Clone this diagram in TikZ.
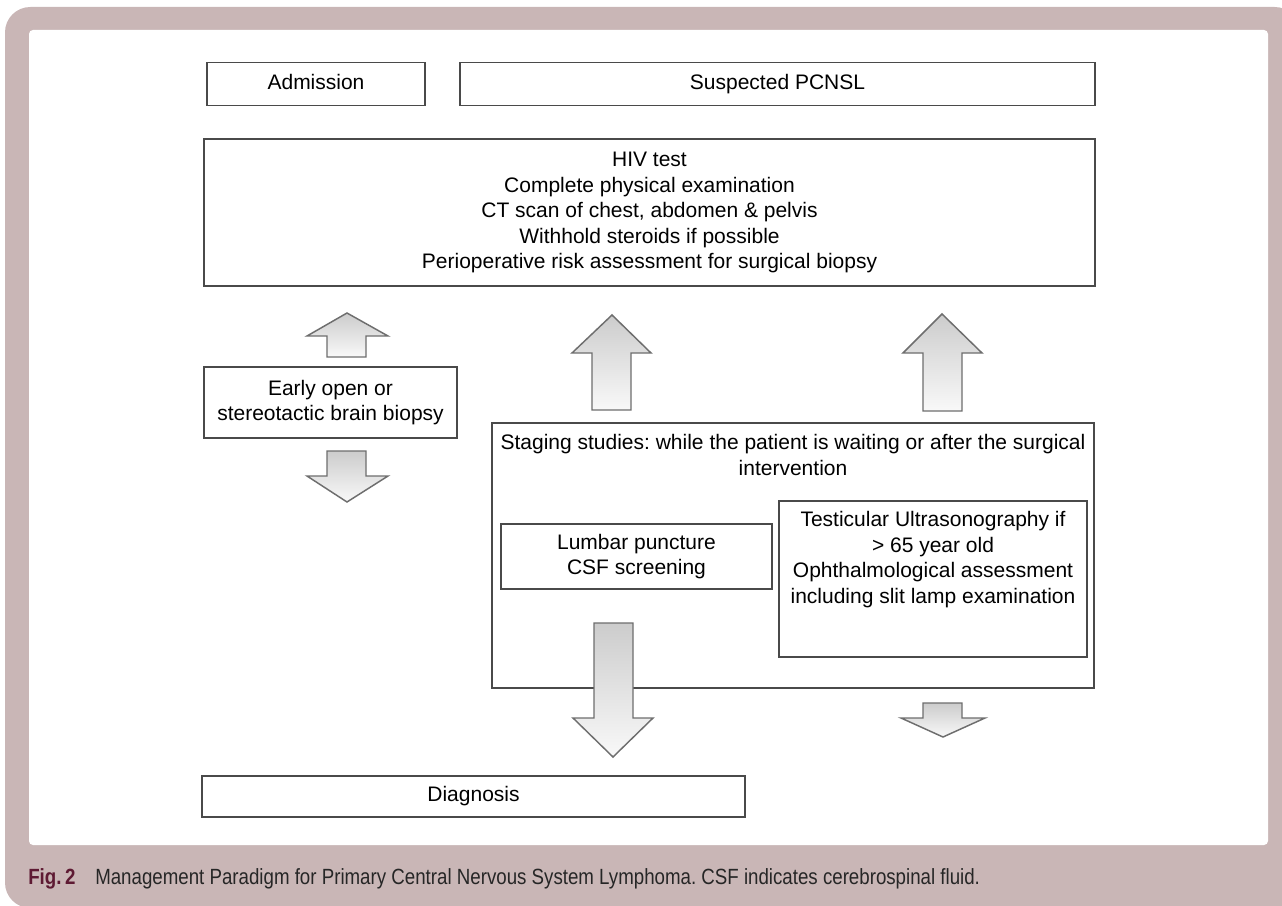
\documentclass[tikz,border=0pt]{standalone}
\usepackage{fontspec}
\setmainfont{Liberation Sans}
\newfontfamily\capfont[FakeStretch=0.85]{Liberation Sans}
\frenchspacing

\definecolor{panelbg}{HTML}{C9B6B6}
\definecolor{figred}{HTML}{5E1A33}
\definecolor{boxline}{HTML}{4A4A4A}
\definecolor{arrline}{HTML}{6E6E6E}

\tikzset{
	box/.style={draw=boxline, line width=0.8pt, fill=white, inner sep=0pt, align=center,
		font=\fontsize{15.75}{19.1}\selectfont},
	oneline/.style={box, execute at begin node={\vphantom{Ap}}},
	boxtext/.style={inner sep=0pt, align=center, font=\fontsize{15.75}{19.1}\selectfont},
	blockarrow/.style={draw=arrline, line width=1.1pt, line join=miter, top color=gray!40, bottom color=gray!5},
	captext/.style={inner sep=0pt, anchor=base west, font=\capfont\fontsize{16.5}{20}\selectfont}
}

\begin{document}
\begin{tikzpicture}[x=0.75pt, y=-0.75pt]
	\useasboundingbox (0,0) rectangle (1282,906);
	\fill[panelbg, rounded corners=19pt] (5,7) rectangle (1300,908);
	\fill[white, rounded corners=3pt] (29,30) rectangle (1268,845);
	
	% boxes
	\node[oneline, minimum width=163.5pt, minimum height=32.25pt] (adm) at (316,84) {Admission};
	\node[oneline, minimum width=476.25pt, minimum height=32.25pt] (susp) at (777.5,84) {Suspected PCNSL};
	\node[box, minimum width=668.25pt, minimum height=110.25pt] (hiv) at (649.5,212.5) {HIV test\\Complete physical examination\\CT scan of chest, abdomen \& pelvis\\Withhold steroids if possible\\Perioperative risk assessment for surgical biopsy};
	\node[box, minimum width=189.75pt, minimum height=53.25pt] (early) at (330.5,402.5) {Early open or\\stereotactic brain biopsy};
	\node[box, minimum width=451.5pt, minimum height=198.75pt] (stag) at (793,555.5) {};
	\node[boxtext, anchor=north] (stagtxt) at ([yshift=-9pt]stag.north) {Staging studies: while the patient is waiting or after the surgical\\intervention};
	\node[box, minimum width=203.25pt, minimum height=48.75pt] (lumb) at (636.5,556.5) {Lumbar puncture\\CSF screening};
	\node[box, minimum width=231pt, minimum height=117pt] (test) at (933,579) {};
	\node[boxtext, anchor=north] (testtxt) at ([yshift=-8pt]test.north) {Testicular Ultrasonography if\\> 65 year old\\Ophthalmological assessment\\including slit lamp examination};
	\node[oneline, minimum width=407.25pt, minimum height=30.75pt] (diag) at (473.5,796.5) {Diagnosis};
	
	% block arrows
	\draw[blockarrow] (327,357) -- (327,336) -- (307,336) -- (347,313) -- (388,336) -- (366,336) -- (366,357) -- cycle;
	\draw[blockarrow] (327,451) -- (327,476) -- (307,476) -- (347,502) -- (388,476) -- (366,476) -- (366,451) -- cycle;
	\draw[blockarrow] (592,410) -- (592,353) -- (572,353) -- (612,315) -- (651,353) -- (631,353) -- (631,410) -- cycle;
	\draw[blockarrow] (923,411) -- (923,353) -- (903,353) -- (942,314) -- (982,353) -- (962,353) -- (962,411) -- cycle;
	\draw[blockarrow] (594,623) -- (594,718) -- (573,718) -- (613,757) -- (653,718) -- (633,718) -- (633,623) -- cycle;
	\draw[blockarrow] (923,703) -- (923,718) -- (901,718) -- (943,737) -- (985,718) -- (962,718) -- (962,703) -- cycle;
	
	% caption
	\node[captext, text=figred, font=\capfont\bfseries\fontsize{16.5}{20}\selectfont] (fig) at (28,884) {Fig.\,2};
	\node[captext, text=black!85] (cap) at (95,884) {Management Paradigm for Primary Central Nervous System Lymphoma. CSF indicates cerebrospinal fluid.};
\end{tikzpicture}
\end{document}
